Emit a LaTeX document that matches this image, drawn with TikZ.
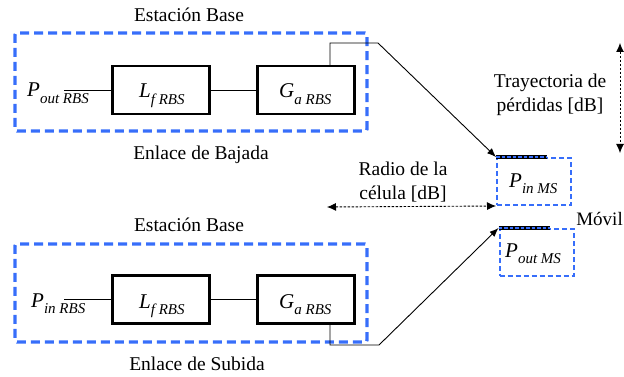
\documentclass[tikz,border=0pt]{standalone}
\usepackage{fontspec}
\setmainfont{Liberation Serif}
\usetikzlibrary{arrows.meta}
\definecolor{dashblue}{RGB}{55,110,250}
% symbol with a lowered italic subscript
\newcommand{\sigl}[2]{\fontsize{21}{23}\selectfont\textit{#1}\raisebox{-6.5pt}{\fontsize{15}{15}\selectfont\textit{#2}}}

\begin{document}
\begin{tikzpicture}[x=1pt,y=-1pt,
  bigbox/.style={draw=dashblue,line width=3.4pt,dash pattern=on 9pt off 5pt,rounded corners=2pt,
    minimum width=352pt,minimum height=98pt,inner sep=0pt},
  block/.style={draw,line width=2.2pt,minimum width=97pt,minimum height=48pt,inner sep=0pt},
  msbox/.style={draw=dashblue,line width=2pt,dash pattern=on 5pt off 3pt,
    minimum width=74pt,minimum height=47pt,inner sep=0pt},
  wire/.style={line width=0.9pt},
  dimarrow/.style={line width=0.9pt,dash pattern=on 2.5pt off 1.5pt,
    {Latex[length=9pt,width=8pt]}-{Latex[length=9pt,width=8pt]}},
  lbl/.style={font=\fontsize{19.5}{23.5}\selectfont,align=center,inner sep=0pt},
  sym/.style={anchor=base west,inner sep=0pt}]

\useasboundingbox (0,0) rectangle (624,377);

% ---------- downlink (base station -> mobile) ----------
\node[bigbox] (bs1) at (191,82) {};
\node[block] (lf1) at (161,90) {};
\node[block] (ga1) at (306,90) {};
\node[lbl] (t1) at (189,15) {Estación Base};
\node[lbl] (e1) at (201,155) {Enlace de Bajada};
\node[sym] (p1) at (27,97) {\sigl{P}{out RBS}};
\node[sym] (l1) at (139,98) {\sigl{L}{f RBS}};
\node[sym] (g1) at (279,98) {\sigl{G}{a RBS}};
\coordinate (in1) at (64,90);
\draw[wire] (in1) -- (lf1.west);
\draw[wire] (lf1.east) -- (ga1.west);

% ---------- uplink (mobile -> base station) ----------
\node[bigbox] (bs2) at (191,293) {};
\node[block] (lf2) at (161,299.5) {};
\node[block] (ga2) at (306,299.5) {};
\node[lbl] (t2) at (189,225) {Estación Base};
\node[lbl] (e2) at (197,364) {Enlace de Subida};
\node[sym] (p2) at (31,307) {\sigl{P}{in RBS}};
\node[sym] (l2) at (139,308) {\sigl{L}{f RBS}};
\node[sym] (g2) at (279,308) {\sigl{G}{a RBS}};
\coordinate (in2) at (64,299.5);
\draw[wire] (in2) -- (lf2.west);
\draw[wire] (lf2.east) -- (ga2.west);

% ---------- mobile station ----------
\node[msbox] (msin) at (534,181.5) {};
\node[msbox] (msout) at (536.5,252.5) {};
\node[sym] (pin) at (509,187) {\sigl{P}{in MS}};
\node[sym] (pout) at (505,257) {\sigl{P}{out MS}};
\node[lbl,anchor=base east,font=\fontsize{19}{23}\selectfont] (movil) at (623,225) {Móvil};

\foreach \b in {msin,msout}{
  \draw[line width=3.6pt] (\b.north west) -- ++(51,0);
  \draw[dashblue,line width=1.6pt,dash pattern=on 3.5pt off 2pt] (\b.north west) -- ++(51,0);
}

% ---------- radio paths ----------
\coordinate (k1) at (378,43);
\draw[wire,-{Latex[length=9pt,width=7pt]}] (ga1.north -| 330,0) |- (k1) -- (msin.north west);
\coordinate (k2) at (379,345);
\draw[wire,-{Latex[length=9pt,width=7pt]}] (ga2.south -| 330,0) |- (k2) -- (msout.north west);

% ---------- dimensions ----------
\node[lbl] (tray) at (550,95) {Trayectoria de\\pérdidas [dB]};
\coordinate (v1) at (620,43);
\coordinate (v2) at (620,153);
\draw[dimarrow] (v1) -- (v2);
\node[lbl] (radio) at (403,182) {Radio de la\\célula [dB]};
\coordinate (h1) at (327,207);
\draw[dimarrow] (h1) -- (msin.south west);
\end{tikzpicture}
\end{document}
